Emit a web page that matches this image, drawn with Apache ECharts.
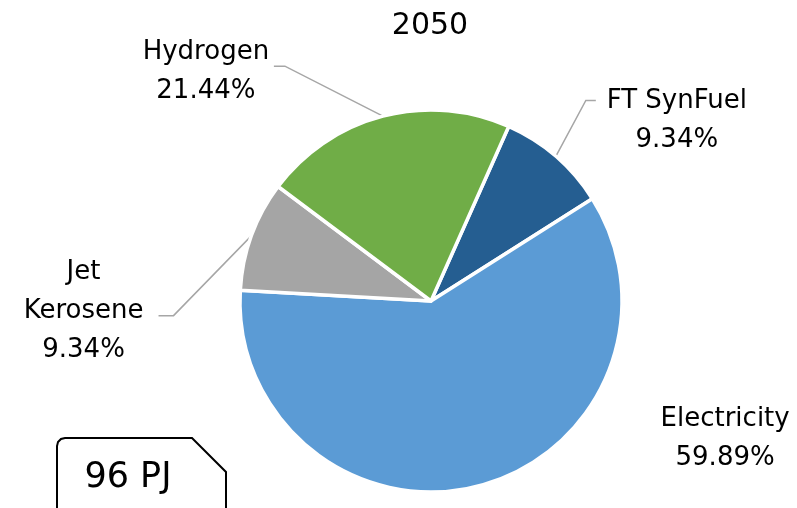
<!DOCTYPE html>
<html>
<head>
<meta charset="utf-8">
<script src="https://cdn.jsdelivr.net/npm/echarts@6/dist/echarts.min.js"></script>
<style>
  html, body { margin: 0; padding: 0; background: #fff; }
  #chart { width: 797px; height: 508px; }
</style>
</head>
<body>
<div id="chart"></div>
<script>
// shares of final energy, 2050 (percent)
const fuels = ['FT SynFuel', 'Electricity', 'Jet\nKerosene', 'Hydrogen']
const shares = [9.34, 59.89, 9.34, 21.44]
const colors = ['#255E91', '#5B9BD5', '#A5A5A5', '#70AD47']
const totalLabel = '96 PJ'

// label placement relative to the slice's outer edge point
// [elbow dx, elbow dy, line end dx, label centre dx, label top dy]
const labelOffsets = [
  [30, -56, 40, 121, -75],
  [0, 0, 0, 246, -86],
  [-78, 80, -93, -168, 17],
  [-98, -50, -109, -177, -83]
]

const chart = echarts.init(document.getElementById('chart'))

const option = {
  title: {
    text: '2050',
    left: 425,
    top: 6,
    textAlign: 'center',
    textStyle: {
      fontFamily: 'DejaVu Sans',
      fontSize: 30,
      fontWeight: 'normal',
      color: '#000'
    }
  },
  graphic: [
    {
      // note box, top-left corner rounded, top-right corner cut
      type: 'polyline',
      shape: {
        points: [[57, 512], [57, 446], [58, 442], [61, 439], [65, 438], [192, 438], [226, 472], [226, 512]]
      },
      style: { fill: '#fff', stroke: '#000', lineWidth: 2 }
    },
    {
      type: 'text',
      x: 128,
      y: 478,
      style: {
        text: totalLabel,
        font: '35px "DejaVu Sans"',
        fill: '#000',
        align: 'center',
        verticalAlign: 'middle'
      }
    }
  ],
  series: [
    {
      type: 'pie',
      center: [431, 301],
      radius: 191,
      startAngle: 66,
      clockwise: true,
      avoidLabelOverlap: false,
      animation: false,
      itemStyle: { borderColor: '#fff', borderWidth: 3.5 },
      label: {
        show: true,
        position: 'outside',
        fontFamily: 'DejaVu Sans',
        fontSize: 26,
        lineHeight: 39,
        color: '#000',
        formatter: (p) => p.name + '\n' + p.value.toFixed(2) + '%'
      },
      labelLine: {
        show: true,
        length: 20,
        length2: 10,
        lineStyle: { color: '#A6A6A6', width: 1.5 }
      },
      labelLayout: function (p) {
        const o = labelOffsets[p.dataIndex]
        const a = p.labelLinePoints[0]
        let pts = [
          [a[0], a[1]],
          [a[0] + o[0], a[1] + o[1]],
          [a[0] + o[2], a[1] + o[1]]
        ]
        if (p.dataIndex === 1) pts = [a, a, a]
        return {
          x: a[0] + o[3],
          y: a[1] + o[4],
          align: 'center',
          verticalAlign: 'top',
          labelLinePoints: pts
        }
      },
      data: fuels.map((name, i) => ({
        name: name,
        value: shares[i],
        itemStyle: { color: colors[i] }
      }))
    }
  ]
}

chart.setOption(option)
</script>
</body>
</html>
